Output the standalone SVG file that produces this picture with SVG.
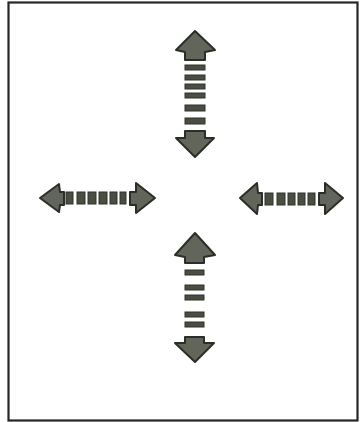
<svg xmlns="http://www.w3.org/2000/svg" width="360" height="422" viewBox="0 0 360 422">
<defs>
<style>
.frame{fill:#ffffff;stroke:#262626;stroke-width:2.2}
.head{fill:#62665a;stroke:#2b2e26;stroke-width:2;stroke-linejoin:round}
.dash{fill:#4a4d42;stroke:#2f322a;stroke-width:1}
</style>
</defs>
<rect x="0" y="0" width="360" height="422" fill="#ffffff"/>
<rect class="frame" x="8.5" y="2.5" width="349" height="418"/>
<g id="connectors">
<g id="arrow-up">
<polygon class="head" points="195,31 215,50 205,52 205,60 185,60 185,52 176,50"/>
<rect class="dash" x="185" y="65" width="20" height="5"/>
<rect class="dash" x="185" y="75" width="20" height="5"/>
<rect class="dash" x="185" y="84" width="20" height="5"/>
<rect class="dash" x="185" y="93" width="20" height="5"/>
<rect class="dash" x="185" y="105" width="20" height="6"/>
<rect class="dash" x="185" y="118" width="20" height="6"/>
<polygon class="head" points="185,131 205,131 205,138 214,138 195,157 176,138 185,138"/>
</g>
<g id="arrow-down">
<polygon class="head" points="195,233 215,255 204,257 204,263 185,263 185,257 175,255"/>
<rect class="dash" x="185" y="270" width="19" height="5"/>
<rect class="dash" x="185" y="285" width="19" height="5"/>
<rect class="dash" x="185" y="295" width="19" height="5"/>
<rect class="dash" x="185" y="312" width="19" height="5"/>
<rect class="dash" x="185" y="322" width="19" height="5"/>
<polygon class="head" points="185,337 204,337 204,343 214,343 195,362 175,343 185,343"/>
</g>
<g id="arrow-left">
<polygon class="head" points="40,198 59,184 60,192 64,192 64,205 60,205 59,212"/>
<rect class="dash" x="66" y="192" width="7" height="12"/>
<rect class="dash" x="77" y="192" width="8" height="12"/>
<rect class="dash" x="88" y="192" width="8" height="12"/>
<rect class="dash" x="99" y="192" width="8" height="12"/>
<rect class="dash" x="110" y="192" width="7" height="12"/>
<rect class="dash" x="120" y="192" width="6" height="12"/>
<polygon class="head" points="130,192 136,192 136,183 155,198 136,213 136,205 130,205"/>
</g>
<g id="arrow-right">
<polygon class="head" points="240,198 257,183 258,193 262,193 262,205 258,205 257,214"/>
<rect class="dash" x="265" y="193" width="8" height="12"/>
<rect class="dash" x="277" y="193" width="8" height="12"/>
<rect class="dash" x="288" y="193" width="7" height="12"/>
<rect class="dash" x="298" y="193" width="7" height="12"/>
<rect class="dash" x="308" y="193" width="7" height="12"/>
<polygon class="head" points="319,193 325,193 325,183 343,198 325,214 325,205 319,205"/>
</g>
</g>
</svg>
